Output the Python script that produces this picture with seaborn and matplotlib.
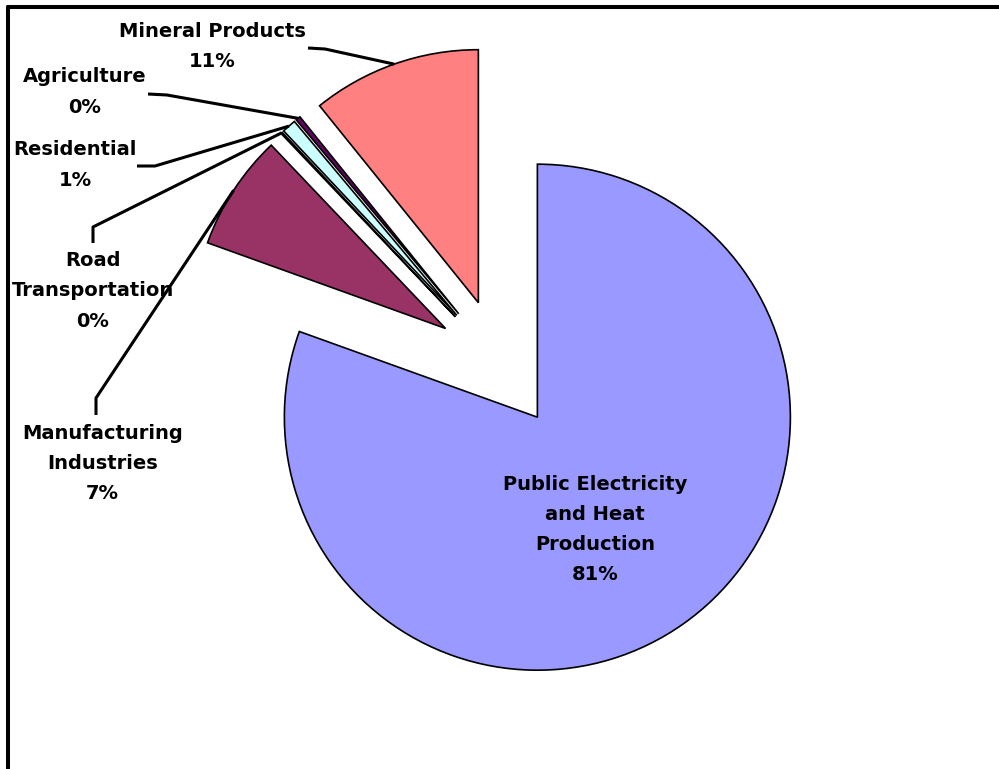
import numpy as np
import matplotlib
matplotlib.use("Agg")
import matplotlib.pyplot as plt
import seaborn as sns
from matplotlib.lines import Line2D

# Emission shares by source sector (%)
sectors = ["Public Electricity\nand Heat\nProduction", "Manufacturing\nIndustries",
           "Road\nTransportation", "Residential", "Agriculture", "Mineral Products"]
shares = [80.5, 7.4, 0.1, 0.9, 0.3, 10.8]
colors = ["#9999FF", "#993366", "#FFFFCC", "#CCFFFF", "#660066", "#FF8080"]

sns.set_theme(style="white")
plt.rcParams["font.family"] = ["DejaVu Sans"]

W, H = 999, 769
fig = plt.figure(figsize=(W / 100, H / 100), dpi=100)
ax = fig.add_axes([0, 0, 1, 1])


def px(x, y):
    """Pixel position (origin top-left) to data coordinates."""
    return x, H - y


def pct(v):
    """Whole-percent label, rounding halves up."""
    return f"{int(v + 0.5)}%"


radius = 253
cx, cy = px(500, 364)
wedges, _ = ax.pie(shares, colors=colors, startangle=90, counterclock=False,
                   radius=radius, center=(cx, cy), explode=[65] * len(shares),
                   wedgeprops=dict(edgecolor="black", linewidth=1.2))
ax.set_xlim(0, W)
ax.set_ylim(0, H)
ax.set_aspect("equal")
ax.axis("off")

# label block centres and leader elbows (pixels)
label_pos = [(595, 529.5), (102.5, 463.5), (93, 291), (75, 165), (85, 92), (212, 46.5)]
elbows = [None, [(96, 415), (96, 398)], [(93, 243), (93, 227)],
          [(137, 166), (155, 166)], [(148, 94), (167, 95)], [(308, 48), (325, 49)]]

for w, name, val, pos, elb in zip(wedges, sectors, shares, label_pos, elbows):
    txt = f"{name}\n{pct(val)}"
    lx, ly = px(*pos)
    ax.text(lx, ly, txt, ha="center", va="center", multialignment="center",
            fontsize=14, fontweight="bold", color="black", linespacing=1.74)
    if elb is None:
        continue
    th = np.deg2rad((w.theta1 + w.theta2) / 2)
    ex = w.center[0] + w.r * np.cos(th)
    ey = w.center[1] + w.r * np.sin(th)
    xs = [px(*p)[0] for p in elb] + [ex]
    ys = [px(*p)[1] for p in elb] + [ey]
    ax.add_line(Line2D(xs, ys, color="black", lw=2.2, solid_capstyle="butt"))

# chart area frame (top and left edges)
fig.add_artist(Line2D([8 / W, 1], [1 - 7 / H, 1 - 7 / H], transform=fig.transFigure,
                      color="black", lw=2.9))
fig.add_artist(Line2D([8 / W, 8 / W], [0, 1 - 7 / H], transform=fig.transFigure,
                      color="black", lw=2.9))

fig.savefig("out.png", dpi=100, facecolor="white")
